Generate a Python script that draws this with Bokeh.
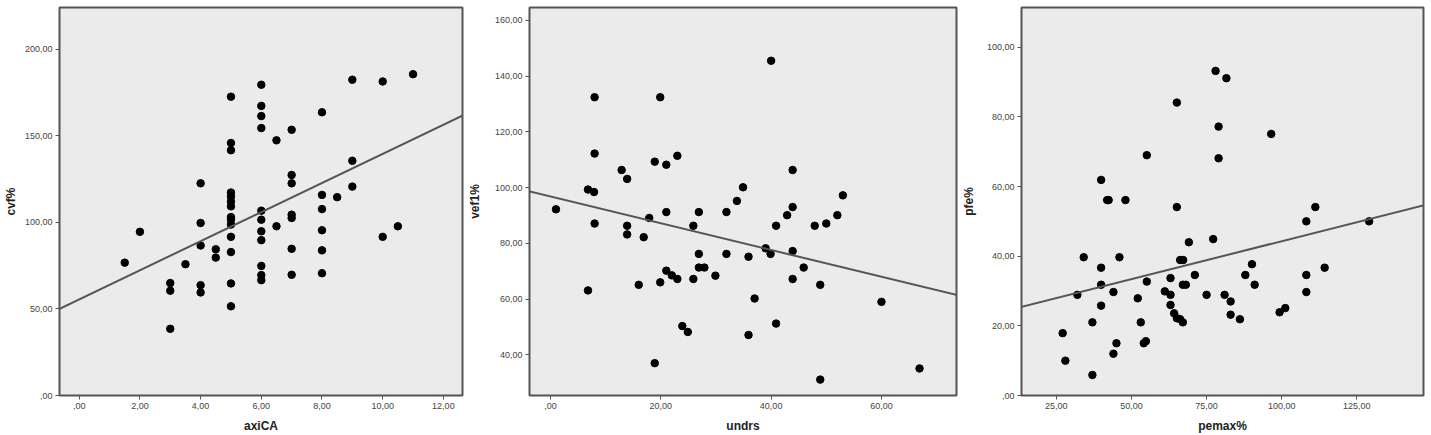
from bokeh.plotting import figure
from bokeh.layouts import row
from bokeh.models import Range1d, Slope, FixedTicker, CustomJSTickFormatter
from bokeh.embed import file_html
from bokeh.resources import INLINE

# ---------------- data ----------------
# Panel 1: axiCA vs cvf%
axica = [1.5, 2.0, 3, 3, 3, 3.5, 4, 4, 4, 4, 4, 4.5, 4.5,
         5, 5, 5, 5, 5, 5, 5, 5, 5, 5, 5, 5, 5, 5,
         6, 6, 6, 6, 6, 6, 6, 6, 6, 6, 6, 6.5, 6.5,
         7, 7, 7, 7, 7, 7, 7, 8, 8, 8, 8, 8, 8, 8.5,
         9, 9, 9, 10, 10, 10.5, 11]
cvf = [76.7, 94.5, 64.9, 60.5, 38.5, 75.8, 122.5, 99.6, 86.6, 63.7, 59.5, 84.4, 79.6,
       172.5, 145.8, 141.6, 117.2, 114.9, 112.0, 109.2, 103.0, 101.5, 98.7, 91.6, 82.8, 64.7, 51.5,
       179.4, 167.2, 161.3, 154.4, 106.7, 101.5, 94.8, 89.7, 74.8, 69.5, 66.6, 147.3, 97.7,
       153.4, 127.3, 122.5, 104.4, 102.5, 84.7, 69.7, 163.5, 115.8, 107.6, 95.4, 83.8, 70.6, 114.5,
       182.3, 135.5, 120.6, 181.3, 91.6, 97.7, 185.5]
fit1 = {"slope": 8.4, "intercept": 55.5}

# Panel 2: undrs vs vef1%
undrs = [1.0, 6.8, 6.8, 7.9, 8.0, 8.0, 8.0, 12.9, 13.9, 13.9, 13.9, 16.0, 16.9, 17.9,
         18.9, 18.9, 19.9, 19.9, 21.0, 21.0, 21.0, 22.0, 23.0, 23.0, 23.9, 24.9, 25.9, 25.9,
         26.9, 26.9, 26.9, 27.9, 29.9, 31.9, 31.9, 33.8, 34.9, 35.9, 35.9, 37.0, 39.0, 40.0,
         39.9, 40.9, 40.9, 42.9, 43.9, 43.9, 43.9, 43.9, 45.9, 47.9, 48.9, 48.9, 50.0, 52.0,
         53.0, 60.0, 66.9]
vef1 = [92.2, 63.1, 99.3, 98.4, 132.4, 112.2, 87.1, 106.3, 103.1, 86.3, 83.2, 65.1, 82.2, 89.1,
        109.3, 37.0, 132.4, 66.0, 108.2, 91.2, 70.2, 68.5, 111.4, 67.2, 50.3, 48.2, 86.3, 67.2,
        91.2, 76.2, 71.3, 71.3, 68.4, 91.2, 76.2, 95.2, 100.1, 75.2, 47.1, 60.2, 78.2, 145.5,
        76.2, 86.3, 51.2, 90.1, 106.3, 93.0, 77.2, 67.2, 71.3, 86.3, 65.1, 31.1, 87.1, 90.1,
        97.2, 59.0, 35.1]
fit2 = {"slope": -0.48, "intercept": 96.8}

# Panel 3: pemax% vs pfe%
pemax = [27.1, 28.0, 32.0, 34.1, 37.0, 37.0, 39.9, 39.9, 39.9, 39.9, 41.9, 42.4, 44.0, 44.0,
         45.0, 46.0, 48.0, 52.1, 53.1, 54.1, 54.8, 55.1, 55.1, 61.1, 63.0, 63.0, 63.0, 64.2,
         65.1, 65.1, 65.1, 66.2, 67.2, 66.2, 67.1, 67.1, 68.1, 69.1, 71.1, 75.0, 77.2, 78.0,
         79.0, 79.0, 81.0, 81.6, 83.0, 83.0, 86.1, 87.9, 90.1, 91.0, 96.5, 99.3, 101.2, 108.2,
         108.2, 108.2, 111.2, 114.3, 129.1]
pfe = [17.9, 10.0, 28.9, 39.7, 21.0, 5.9, 61.9, 36.7, 31.8, 25.8, 56.1, 56.1, 29.7, 12.0,
       15.0, 39.7, 56.1, 27.9, 21.0, 15.0, 15.6, 69.0, 32.7, 29.9, 33.7, 28.9, 26.0, 23.6,
       84.1, 54.1, 22.2, 38.9, 38.9, 21.9, 21.0, 31.8, 31.8, 44.0, 34.6, 28.9, 44.9, 93.2,
       77.2, 68.1, 28.9, 91.1, 27.0, 23.2, 21.9, 34.6, 37.7, 31.8, 75.1, 23.9, 25.1, 50.0,
       34.6, 29.7, 54.1, 36.7, 50.0]
fit3 = {"slope": 0.218, "intercept": 22.5}

ticks1_x = [0, 2, 4, 6, 8, 10, 12]
ticks1_y = [0, 50, 100, 150, 200]
ticks2_x = [0, 20, 40, 60]
ticks2_y = [40, 60, 80, 100, 120, 140, 160]
ticks3_x = [25, 50, 75, 100, 125]
ticks3_y = [0, 20, 40, 60, 80, 100]

FMT = CustomJSTickFormatter(code="""
if (Math.abs(tick) < 1e-9) { return ',00'; }
return tick.toFixed(2).replace('.', ',');
""")

FONT = "Liberation Sans"


def make_panel(xs, ys, fit, xr, yr, xt, yt, xlabel, ylabel, width, bl, br, ylab_standoff):
    p = figure(width=width, height=435, output_backend="svg", toolbar_location=None,
               x_range=Range1d(*xr), y_range=Range1d(*yr),
               min_border_left=bl, min_border_right=br, min_border_top=7, min_border_bottom=38)
    p.background_fill_color = "#ebebeb"
    p.border_fill_color = "white"
    p.outline_line_color = "#555555"
    p.outline_line_width = 2
    p.grid.visible = False
    p.scatter(xs, ys, size=7.5, color="black", line_color="black")
    p.add_layout(Slope(gradient=fit["slope"], y_intercept=fit["intercept"],
                       line_color="#555555", line_width=2))
    for ax, ticks in ((p.xaxis[0], xt), (p.yaxis[0], yt)):
        ax.ticker = FixedTicker(ticks=ticks)
        ax.formatter = FMT
        ax.axis_line_color = None
        ax.major_tick_line_color = "#555555"
        ax.major_tick_line_width = 1
        ax.major_tick_out = 4
        ax.major_tick_in = 0
        ax.minor_tick_line_color = None
        ax.major_label_text_font = FONT
        ax.major_label_text_font_size = "9px"
        ax.major_label_text_color = "#444444"
        ax.major_label_standoff = 3
        ax.axis_label_text_font = FONT
        ax.axis_label_text_font_size = "12px"
        ax.axis_label_text_font_style = "bold"
        ax.axis_label_text_color = "#222222"
    p.xaxis.axis_label = xlabel
    p.yaxis.axis_label = ylabel
    p.xaxis.axis_label_standoff = 7
    p.yaxis.axis_label_standoff = ylab_standoff
    return p


p1 = make_panel(axica, cvf, fit1, (-0.65, 12.63), (0, 224), ticks1_x, ticks1_y,
                "axiCA", "cvf%", 464, 55, 2, 4)
p2 = make_panel(undrs, vef1, fit2, (-3.8, 73.6), (25.4, 164.6), ticks2_x, ticks2_y,
                "undrs", "vef1%", 494, 63, 2, 10)
p3 = make_panel(pemax, pfe, fit3, (13.4, 147.2), (0, 111.4), ticks3_x, ticks3_y,
                "pemax%", "pfe%", 473, 61, 8, 8)

layout = row(p1, p2, p3)
open("out.html", "w").write(file_html(layout, INLINE))
